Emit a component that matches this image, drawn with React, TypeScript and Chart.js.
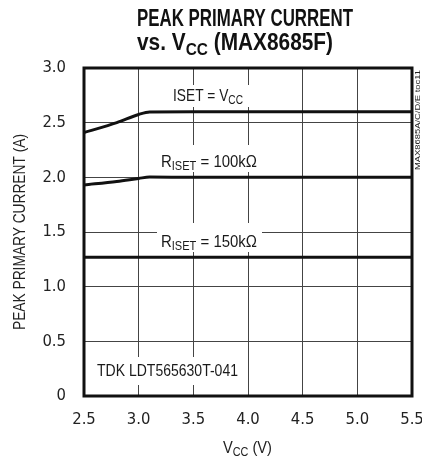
import { useEffect, useRef } from "react";
import { Chart, registerables } from "chart.js";

Chart.register(...registerables);

// ---- data ----
const vccValues = [2.5, 2.8, 3.0, 3.1, 3.5, 4.0, 4.5, 5.0, 5.5];
const isetVcc = [2.41, 2.5, 2.575, 2.598, 2.6, 2.6, 2.6, 2.6, 2.6];
const riset100k = [1.93, 1.962, 1.99, 2.003, 2.0, 2.0, 2.0, 2.0, 2.0];
const riset150k = [1.27, 1.27, 1.27, 1.27, 1.27, 1.27, 1.27, 1.27, 1.27];
const xMin = 2.5;
const xMax = 5.5;
const xStep = 0.5;
const yMin = 0;
const yMax = 3.0;
const yStep = 0.5;

const FAMILY = "'Liberation Sans Narrow', 'DejaVu Sans Condensed', 'Liberation Sans', sans-serif";
const BASE = "'Liberation Sans', Arial, sans-serif";

type Seg = { t: string; sub?: boolean };

function drawRich(
  ctx: CanvasRenderingContext2D,
  segs: Seg[],
  x: number,
  y: number,
  size: number,
  weight: string,
  targetW?: number,
  center?: boolean
) {
  const subSize = size * 0.74;
  const widths: number[] = [];
  let w = 0;
  for (const s of segs) {
    ctx.font = `${weight} ${s.sub ? subSize : size}px ${BASE}`;
    const m = ctx.measureText(s.t).width;
    widths.push(m);
    w += m;
  }
  const sc = targetW ? targetW / w : 0.82;
  ctx.save();
  ctx.translate(x - (center ? (w * sc) / 2 : 0), y);
  ctx.scale(sc, 1);
  ctx.textBaseline = "alphabetic";
  ctx.textAlign = "left";
  let cx = 0;
  segs.forEach((s, i) => {
    ctx.font = `${weight} ${s.sub ? subSize : size}px ${BASE}`;
    ctx.fillText(s.t, cx, s.sub ? size * 0.2 : 0);
    cx += widths[i];
  });
  ctx.restore();
}

const textPlugin = {
  id: "textDeco",
  beforeDatasetsDraw(chart: any) {
    const ctx: CanvasRenderingContext2D = chart.ctx;
    ctx.save();
    // white label boxes that break the grid
    ctx.fillStyle = "#ffffff";
    ctx.fillRect(170, 85, 80, 22);
    ctx.fillRect(157, 145, 105, 27);
    ctx.fillRect(157, 223, 105, 29);
    ctx.fillRect(92, 357, 153, 28);
    ctx.fillStyle = "#1a1a1a";
    drawRich(ctx, [{ t: "ISET = V" }, { t: "CC", sub: true }], 173, 101, 17, "normal", 70);
    drawRich(ctx, [{ t: "R" }, { t: "ISET", sub: true }, { t: " = 100k\u03A9" }], 161, 166.5, 17, "normal", 96);
    drawRich(ctx, [{ t: "R" }, { t: "ISET", sub: true }, { t: " = 150k\u03A9" }], 161, 246.5, 17, "normal", 96);
    drawRich(ctx, [{ t: "TDK LDT565630T-041" }], 97, 376, 17, "normal", 141);
    ctx.restore();
  },
  afterDatasetsDraw(chart: any) {
    const ctx: CanvasRenderingContext2D = chart.ctx;
    const a = chart.chartArea;
    ctx.save();
    ctx.strokeStyle = "#111";
    ctx.lineWidth = 3;
    ctx.strokeRect(a.left, a.top, a.right - a.left, a.bottom - a.top);
    ctx.fillStyle = "#111";
    // titles
    drawRich(ctx, [{ t: "PEAK PRIMARY CURRENT" }], 137, 26, 23.5, "bold", 216);
    drawRich(ctx, [{ t: "vs. V" }, { t: "CC", sub: true }, { t: " (MAX8685F)" }], 137, 50, 23.5, "bold", 196);
    // x title
    ctx.fillStyle = "#222";
    drawRich(ctx, [{ t: "V" }, { t: "CC", sub: true }, { t: " (V)" }], 223, 452.5, 17, "normal", 49);
    // y title
    ctx.save();
    ctx.translate(25, 232);
    ctx.rotate(-Math.PI / 2);
    drawRich(ctx, [{ t: "PEAK PRIMARY CURRENT (A)" }], 0, 0, 16, "normal", 196, true);
    ctx.restore();
    // side id
    ctx.save();
    ctx.translate(420, 170);
    ctx.rotate(-Math.PI / 2);
    drawRich(ctx, [{ t: "MAX8685A/C/D/E toc11" }], 0, 0, 8, "normal", 100);
    ctx.restore();
    ctx.restore();
  },
};

function toPts(ys: number[]) {
  return vccValues.map((x, i) => ({ x, y: ys[i] }));
}

export default function App() {
  const ref = useRef<HTMLCanvasElement | null>(null);
  useEffect(() => {
    if (!ref.current) return;
    const lineStyle = {
      borderColor: "#111",
      borderWidth: 3,
      pointRadius: 0,
      cubicInterpolationMode: "monotone" as const,
      fill: false,
    };
    const chart = new Chart(ref.current, {
      type: "line",
      data: {
        datasets: [
          { label: "ISET = VCC", data: toPts(isetVcc), ...lineStyle },
          { label: "RISET = 100k", data: toPts(riset100k), ...lineStyle },
          { label: "RISET = 150k", data: toPts(riset150k), ...lineStyle },
        ],
      },
      options: {
        responsive: false,
        animation: false,
        devicePixelRatio: 1,
        layout: { padding: { top: 68, right: 10, left: 0, bottom: 0 } },
        plugins: { legend: { display: false }, title: { display: false }, tooltip: { enabled: false } },
        scales: {
          x: {
            type: "linear",
            min: xMin,
            max: xMax,
            ticks: {
              stepSize: xStep,
              padding: 14,
              color: "#222",
              font: { family: FAMILY, size: 16.5 },
              callback: (v: any) => Number(v).toFixed(1),
              maxRotation: 0,
            },
            grid: { color: "#444", lineWidth: 1, drawTicks: false },
            border: { display: false },
            afterFit: (s: any) => {
              s.height = 63;
              s.paddingLeft = 0;
              s.paddingRight = 0;
            },
          },
          y: {
            type: "linear",
            min: yMin,
            max: yMax,
            ticks: {
              stepSize: yStep,
              padding: 18,
              color: "#222",
              font: { family: FAMILY, size: 16.5 },
              callback: (v: any) => (Number(v) === 0 ? "0" : Number(v).toFixed(1)),
            },
            grid: { color: "#444", lineWidth: 1, drawTicks: false },
            border: { display: false },
            afterFit: (s: any) => {
              s.width = 84;
              s.paddingTop = 0;
              s.paddingBottom = 0;
            },
          },
        },
      },
      plugins: [textPlugin],
    });
    return () => chart.destroy();
  }, []);
  return (
    <div style={{ position: "absolute", left: 0, top: 0, width: 422, height: 459, background: "#fff" }}>
      <canvas ref={ref} width={422} height={459} style={{ display: "block" }} />
    </div>
  );
}
